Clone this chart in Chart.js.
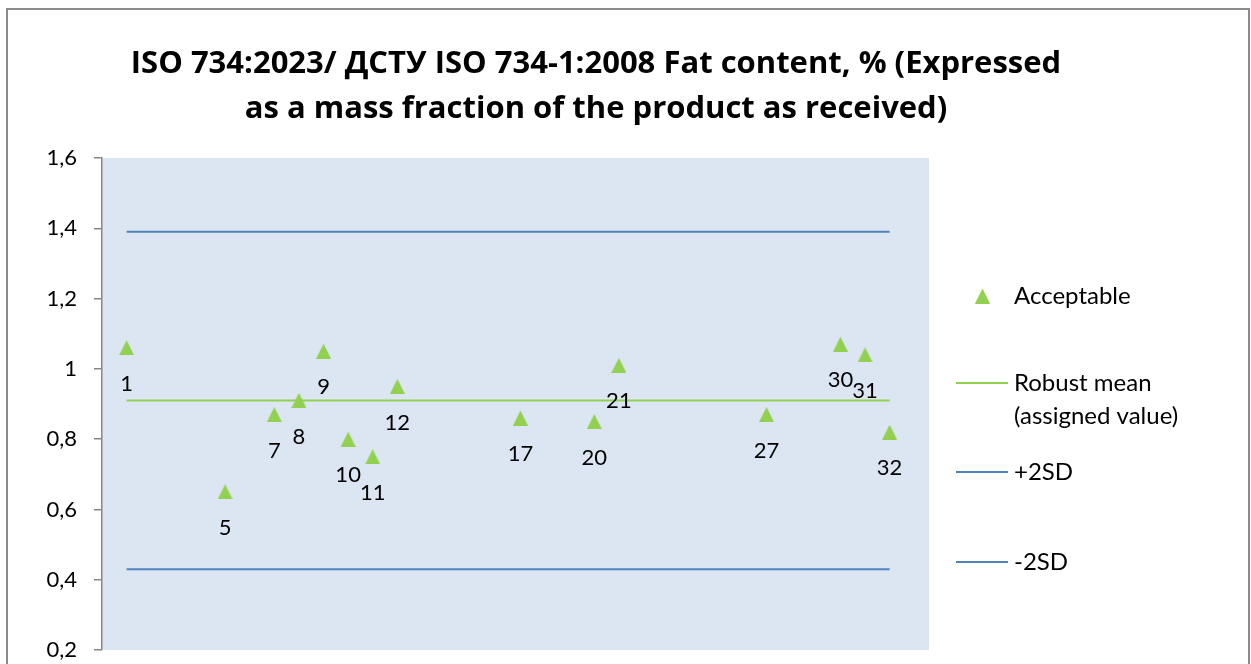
<!DOCTYPE html>
<html>
<head>
<meta charset="utf-8">
<title>Fat content</title>
<script src="https://cdn.jsdelivr.net/npm/chart.js@4.4.1/dist/chart.umd.min.js"></script>
<style>
  html, body { margin: 0; padding: 0; background: #fff; overflow: hidden; }
  canvas { display: block; }
</style>
</head>
<body>
<canvas id="fatChart" width="1251" height="664"></canvas>
<script>
const TITLE_LINES = [
  'ISO 734:2023/ ДСТУ ISO 734-1:2008 Fat content, % (Expressed',
  'as a mass fraction of the product as received)'
];
const PARTICIPANTS = [1, 5, 7, 8, 9, 10, 11, 12, 17, 20, 21, 27, 30, 31, 32];
const FAT_VALUES = [1.06, 0.65, 0.87, 0.91, 1.05, 0.80, 0.75, 0.95, 0.86, 0.85, 1.01, 0.87, 1.07, 1.04, 0.82];
const ROBUST_MEAN = 0.91;
const PLUS_2SD = 1.39;
const MINUS_2SD = 0.43;
const Y_TICKS = [0.2, 0.4, 0.6, 0.8, 1.0, 1.2, 1.4, 1.6];
const LEGEND_LABELS = [['Acceptable'], ['Robust mean', '(assigned value)'], ['+2SD'], ['-2SD']];

const GREEN = '#92d050';
const BLUE = '#4f81bd';
const AXIS_GREY = '#868686';
const FONT = 'Lato, "Noto Sans", sans-serif';
const TITLE_FONT = '"Open Sans", "Noto Sans", sans-serif';

function byId(id){ return document.getElementById(id); }

// Excel-like filled triangle marker, used both on the chart and in the legend
function makeTriangle(size, color){
  const c = document.createElement('canvas');
  c.width = size; c.height = size;
  const g = c.getContext('2d');
  g.fillStyle = color;
  g.beginPath();
  g.moveTo(size/2, 0);
  g.lineTo(size, size);
  g.lineTo(0, size);
  g.closePath();
  g.fill();
  return c;
}
const triangle = makeTriangle(15, GREEN);

function flatLine(y){
  const first = PARTICIPANTS[0], last = PARTICIPANTS[PARTICIPANTS.length-1];
  return [{x:first, y:y}, {x:last, y:y}];
}

function commaNum(v){
  return Number(v.toFixed(1)).toString().replace('.', ',');
}

const framePlugin = {
  id: 'frame',
  beforeDraw(chart){
    const ctx = chart.ctx, a = chart.chartArea;
    ctx.save();
    ctx.fillStyle = '#fff';
    ctx.fillRect(0, 0, chart.width, chart.height);
    ctx.strokeStyle = '#8c8c8c';
    ctx.lineWidth = 2;
    ctx.strokeRect(7, 9, 1242, 700);
    ctx.fillStyle = '#dce6f2';
    ctx.fillRect(a.left, a.top, a.right - a.left, a.bottom - a.top);
    ctx.restore();
  }
};

const titlePlugin = {
  id: 'twoLineTitle',
  afterDraw(chart){
    const ctx = chart.ctx;
    ctx.save();
    ctx.fillStyle = '#000';
    ctx.font = 'bold 31px ' + TITLE_FONT;
    ctx.textAlign = 'center';
    ctx.textBaseline = 'middle';
    TITLE_LINES.forEach((t, i)=> ctx.fillText(t, 596, 64 + i*45));
    ctx.restore();
  }
};

const pointLabels = {
  id: 'pointLabels',
  afterDatasetsDraw(chart){
    const ctx = chart.ctx;
    const meta = chart.getDatasetMeta(0);
    ctx.save();
    ctx.fillStyle = '#000';
    ctx.font = '22px ' + FONT;
    ctx.textAlign = 'center';
    ctx.textBaseline = 'middle';
    meta.data.forEach((el, i)=>{
      ctx.fillText(String(PARTICIPANTS[i]), el.x, el.y + 36);
    });
    ctx.restore();
  }
};

const sideLegend = {
  id: 'sideLegend',
  afterDraw(chart){
    const ctx = chart.ctx, a = chart.chartArea;
    const x0 = a.right + 27, x1 = a.right + 79, tx = a.right + 85;
    const rows = [296, 383, 472, 562];
    ctx.save();
    ctx.font = '24px ' + FONT;
    ctx.fillStyle = '#000';
    ctx.textBaseline = 'middle';
    chart.data.datasets.forEach((ds, i)=>{
      const y = rows[i];
      if(i === 0){
        ctx.drawImage(triangle, a.right + 46, y - 7.5);
      } else {
        ctx.strokeStyle = ds.borderColor;
        ctx.lineWidth = ds.borderWidth;
        ctx.beginPath(); ctx.moveTo(x0, y); ctx.lineTo(x1, y); ctx.stroke();
      }
      LEGEND_LABELS[i].forEach((t, k)=> ctx.fillText(t, tx, y + k*33));
    });
    ctx.restore();
  }
};

document.addEventListener('DOMContentLoaded', ()=>{
  const ctx = byId('fatChart').getContext('2d');
  new Chart(ctx, {
    type: 'scatter',
    data: {
      datasets: [
        { label: 'Acceptable', data: PARTICIPANTS.map((p, i)=>({x:p, y:FAT_VALUES[i]})),
          pointStyle: triangle, pointRadius: 8, showLine: false },
        { label: 'Robust mean (assigned value)', data: flatLine(ROBUST_MEAN), showLine: true,
          borderColor: GREEN, borderWidth: 2, pointRadius: 0 },
        { label: '+2SD', data: flatLine(PLUS_2SD), showLine: true,
          borderColor: BLUE, borderWidth: 2, pointRadius: 0 },
        { label: '-2SD', data: flatLine(MINUS_2SD), showLine: true,
          borderColor: BLUE, borderWidth: 2, pointRadius: 0 }
      ]
    },
    options: {
      responsive: false,
      animation: false,
      layout: { padding: { top: 158, right: 322, bottom: 14, left: 0 } },
      plugins: { legend: { display: false }, title: { display: false }, tooltip: { enabled: false } },
      scales: {
        x: { type: 'linear', min: 0, max: 33.6, display: false },
        y: {
          min: 0.2, max: 1.6,
          afterBuildTicks(scale){ scale.ticks = Y_TICKS.map(v=>({value:v})); },
          afterFit(scale){
            scale.width = 102;
            // the label padding would otherwise push the plot bottom up
            scale.paddingTop = 0;
            scale.paddingBottom = 0;
          },
          ticks: { callback: v => commaNum(v), color: '#000', padding: 17,
                   font: { family: FONT, size: 22 } },
          grid: { drawOnChartArea: false, drawTicks: true, tickLength: 8, color: AXIS_GREY, lineWidth: 1.5 },
          border: { color: AXIS_GREY, width: 1.5 }
        }
      }
    },
    plugins: [framePlugin, pointLabels, titlePlugin, sideLegend]
  });
});
</script>
</body>
</html>
